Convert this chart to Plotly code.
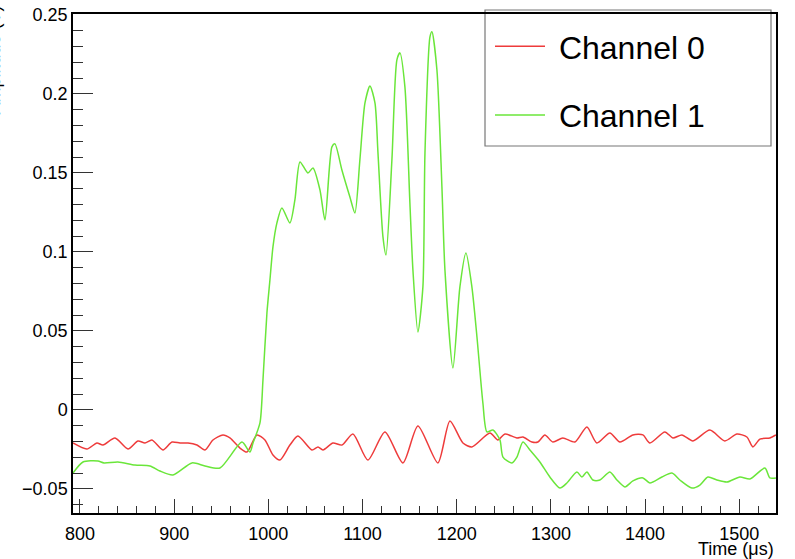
import plotly.graph_objects as go

# Channel 0 (red)
ch0_t = [792.6, 807.4, 818.0, 824.4, 837.2, 851.0, 861.6, 869.0, 876.4, 888.1, 897.7, 906.2,
         914.7, 924.2, 932.7, 941.2, 951.8, 959.2, 969.9, 977.3, 987.9, 996.4, 1004.9, 1012.3,
         1022.9, 1031.4, 1046.3, 1052.7, 1058.0, 1068.6, 1078.1, 1089.8, 1105.7, 1123.8, 1142.9,
         1158.8, 1180.0, 1192.8, 1206.6, 1216.1, 1235.3, 1243.7, 1251.2, 1263.9, 1270.3, 1279.8,
         1286.2, 1293.6, 1302.1, 1312.7, 1325.5, 1338.2, 1348.8, 1362.6, 1373.3, 1387.1, 1397.7,
         1405.1, 1421.0, 1429.5, 1439.1, 1450.8, 1468.8, 1484.7, 1497.5, 1508.1, 1514.5, 1521.9,
         1532.5, 1538.9]
ch0_v = [-0.0209, -0.0247, -0.0209, -0.0222, -0.0177, -0.0247, -0.0196, -0.0209, -0.0190, -0.0253,
         -0.0203, -0.0209, -0.0209, -0.0222, -0.0253, -0.0190, -0.0158, -0.0177, -0.0241, -0.0266,
         -0.0158, -0.0190, -0.0285, -0.0317, -0.0222, -0.0165, -0.0253, -0.0234, -0.0253, -0.0209,
         -0.0222, -0.0152, -0.0317, -0.0139, -0.0335, -0.0101, -0.0335, -0.0070, -0.0209, -0.0234,
         -0.0146, -0.0190, -0.0152, -0.0177, -0.0171, -0.0203, -0.0203, -0.0158, -0.0203, -0.0177,
         -0.0203, -0.0108, -0.0209, -0.0146, -0.0203, -0.0158, -0.0158, -0.0209, -0.0139, -0.0177,
         -0.0158, -0.0196, -0.0127, -0.0196, -0.0152, -0.0171, -0.0234, -0.0184, -0.0177, -0.0158]

# Channel 1 (green)
ch1_t = [792.6, 803.2, 819.1, 825.5, 840.3, 858.4, 874.3, 884.9, 898.7, 918.9, 932.7, 948.6,
         972.0, 980.5, 983.7, 991.1, 994.3, 998.5, 1001.7, 1004.9, 1009.1, 1014.4, 1022.9, 1028.2,
         1033.6, 1042.0, 1047.4, 1054.8, 1060.1, 1067.5, 1070.7, 1078.1, 1086.6, 1091.9, 1097.2,
         1102.6, 1107.9, 1113.2, 1116.4, 1121.7, 1124.9, 1131.2, 1136.5, 1139.7, 1145.0, 1150.3,
         1153.5, 1158.8, 1164.1, 1166.3, 1171.6, 1173.7, 1179.0, 1184.3, 1187.5, 1196.0, 1203.4,
         1209.8, 1216.1, 1221.5, 1227.8, 1232.1, 1238.4, 1245.9, 1249.1, 1258.6, 1263.9, 1270.3,
         1277.7, 1288.3, 1298.9, 1309.6, 1317.0, 1327.6, 1332.9, 1338.2, 1344.6, 1352.0, 1362.6,
         1370.1, 1378.6, 1387.1, 1397.7, 1405.1, 1417.9, 1428.5, 1436.9, 1449.7, 1458.2, 1466.7,
         1476.2, 1486.9, 1500.7, 1511.3, 1527.2, 1532.5, 1538.9]
ch1_v = [-0.0399, -0.0329, -0.0323, -0.0335, -0.0329, -0.0348, -0.0354, -0.0386, -0.0411, -0.0335,
         -0.0354, -0.0367, -0.0203, -0.0266, -0.0209, -0.0082, 0.0190, 0.0614, 0.0823, 0.1032,
         0.1184, 0.1279, 0.1184, 0.1329, 0.1570, 0.1500, 0.1532, 0.1393, 0.1203, 0.1665, 0.1684,
         0.1519, 0.1348, 0.1247, 0.1583, 0.1943, 0.2051, 0.1943, 0.1627, 0.1095, 0.0981, 0.1583,
         0.2216, 0.2260, 0.2045, 0.1310, 0.0886, 0.0494, 0.0779, 0.1627, 0.2361, 0.2393, 0.2152,
         0.1412, 0.0886, 0.0266, 0.0779, 0.0994, 0.0779, 0.0462, 0.0044, -0.0139, -0.0127, -0.0190,
         -0.0298, -0.0335, -0.0298, -0.0203, -0.0253, -0.0329, -0.0424, -0.0494, -0.0462, -0.0392,
         -0.0424, -0.0392, -0.0443, -0.0443, -0.0392, -0.0443, -0.0487, -0.0449, -0.0430, -0.0462,
         -0.0424, -0.0399, -0.0443, -0.0494, -0.0475, -0.0424, -0.0443, -0.0456, -0.0424, -0.0437,
         -0.0367, -0.0430, -0.0430]

series_names = ["Channel 0", "Channel 1"]
x_title = "Time (μs)"
y_title = "Amplitude (V)"

FONT = "Liberation Sans, Arial, Helvetica, sans-serif"
W, H = 795, 559
ML, MR, MT, MB = 73, 19, 14, 46
PW, PH = W - ML - MR, H - MT - MB

def px_x(p):
    return (p - ML) / PW

def px_y(p):
    return 1 - (p - MT) / PH

NB = "\u00a0"

fig = go.Figure()
fig.add_trace(go.Scatter(x=ch0_t, y=ch0_v, mode="lines", name=NB + series_names[0],
                         legendgroup="a",
                         line=dict(color="#ee3b3b", width=1.5, shape="spline", smoothing=0.7)))
fig.add_trace(go.Scatter(x=ch1_t, y=ch1_v, mode="lines", name=NB + series_names[1],
                         legendgroup="b",
                         line=dict(color="#6ae63a", width=1.5, shape="spline", smoothing=0.7)))

fig.update_layout(
    width=W, height=H,
    margin=dict(l=ML, r=MR, t=MT, b=MB, autoexpand=False),
    paper_bgcolor="white", plot_bgcolor="white",
    font=dict(family=FONT, color="black", size=18),
    showlegend=True,
    legend=dict(x=px_x(490), y=px_y(19), xanchor="left", yanchor="top",
                bgcolor="rgba(0,0,0,0)", borderwidth=0,
                font=dict(family=FONT, size=32, color="black"),
                itemwidth=50, tracegroupgap=24, traceorder="grouped"),
    xaxis=dict(range=[792.6, 1539], showgrid=False, zeroline=False,
               showline=True, linecolor="black", linewidth=1.5, mirror=True,
               ticks="inside", ticklen=14, tickwidth=1, tickcolor="#333",
               tick0=800, dtick=100, ticklabelstandoff=4,
               minor=dict(ticks="inside", ticklen=7, dtick=20, tick0=800,
                          tickcolor="#333", showgrid=False),
               tickfont=dict(size=18, family=FONT)),
    yaxis=dict(range=[-0.0652, 0.2506], showgrid=False, zeroline=False,
               showline=True, linecolor="black", linewidth=1.5, mirror=True,
               ticks="inside", ticklen=20, tickwidth=1, tickcolor="#333",
               tick0=0, dtick=0.05,
               minor=dict(ticks="inside", ticklen=10, dtick=0.01, tick0=0,
                          tickcolor="#333", showgrid=False),
               tickfont=dict(size=18, family=FONT)),
    shapes=[dict(type="rect", xref="paper", yref="paper",
                 x0=px_x(485), x1=px_x(771), y0=px_y(146), y1=px_y(10),
                 line=dict(color="#777", width=1.2), fillcolor="white", layer="below")],
    annotations=[
        dict(text=x_title, xref="paper", yref="paper", x=1, y=px_y(549),
             xanchor="right", yanchor="middle", showarrow=False,
             font=dict(size=18, family=FONT, color="black")),
        dict(text=y_title, xref="paper", yref="paper", x=px_x(-6), y=px_y(4),
             xanchor="center", yanchor="top", textangle=-90, showarrow=False,
             font=dict(size=18, family=FONT, color="black")),
    ],
)

fig.write_html("out.html", config={"displayModeBar": False},
               post_script="document.body.style.margin='0';document.body.style.padding='0';")
